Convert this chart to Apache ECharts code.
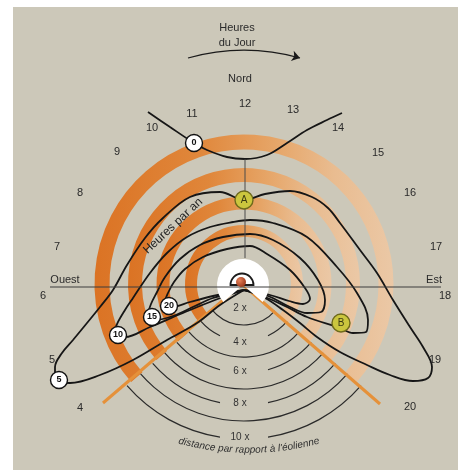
<!DOCTYPE html>
<html><head><meta charset="utf-8">
<script src="https://cdn.jsdelivr.net/npm/echarts/dist/echarts.min.js"></script>
<style>html,body{margin:0;padding:0;background:#fff;}#main{width:458px;height:470px;}</style>
</head><body><div id="main"></div>
<script>
// ---- DATA (chart units, origin = wind turbine, north up) ----
const ringRadius = [142, 109, 81, 53];
const distanceArcR = [41, 57, 73, 89, 105, 121, 137, 155];
const distanceArcSplit = [0, 1, 0, 1, 0, 1, 0, 1];
const distanceLabels = ['2 x', '4 x', '6 x', '8 x', '10 x'];
const distanceLabelR = [24, 58, 87, 119, 153];
const wedgeLeft = [[-2, 0], [-141, -119]];
const wedgeRight = [[-2, 0], [136, -120]];
const westEastLine = [[-194, -3], [197, -3]];
const northLine = [[1, 125], [1, 26]];

const hourLabels = ['4','5','6','7','8','9','10','11','12','13','14','15','16','17','18','19','20'];
const hourX = [-164,-192,-201,-187,-164,-127,-92,-52,1,49,94,134,166,192,201,191,166];
const hourY = [-124,-76,-12,37,91,132,156,170,180,174,156,131,91,37,-12,-76,-123];

const titleTexts = ['Heures', 'du Jour', 'Nord', 'Ouest', 'Est'];
const titleX = [-7, -7, -4, -179, 190];
const titleY = [256, 241, 205, 4, 4];

const contour0 = [[-96,172],[-74,157],[-50,141],[-37,134],[-17,127],[1,125],[23,129],[43,141],[63,154],[83,164],[98,171]];
const contour5 = [[0,-6],[-24,-21],[-47,-39],[-77,-56],[-111,-76],[-144,-91],[-174,-99],[-189,-96],[-189,-83],[-182,-69],[-171,-56],[-157,-39],[-144,-23],[-131,-6],[-117,19],[-99,46],[-81,66],[-54,87],[-24,92],[0,84],[21,90],[46,93],[68,87],[84,76],[96,61],[116,34],[133,11],[149,-16],[166,-43],[179,-63],[188,-83],[184,-94],[169,-97],[146,-91],[123,-81],[96,-68],[73,-53],[56,-39],[39,-26],[21,-14],[0,-6]];
const contour10 = [[0,-6],[-29,-16],[-61,-29],[-94,-43],[-119,-53],[-130,-50],[-127,-40],[-119,-26],[-111,-14],[-94,11],[-77,31],[-57,47],[-34,57],[-11,62],[6,64],[29,61],[63,47],[93,17],[113,-9],[124,-36],[122,-48],[109,-49],[96,-44],[63,-33],[43,-23],[21,-13],[0,-6]];
const contour15 = [[0,-6],[-31,-14],[-49,-22],[-71,-32],[-89,-36],[-96,-31],[-93,-20],[-87,-8],[-79,7],[-64,25],[-44,39],[-21,47],[6,50],[29,44],[56,26],[74,4],[81,-16],[77,-28],[63,-29],[46,-23],[24,-12],[0,-6]];
const contour20 = [[0,-6],[-31,-12],[-54,-18],[-72,-23],[-79,-18],[-76,-9],[-70,2],[-59,15],[-41,27],[-17,35],[6,38],[23,30],[46,14],[61,-4],[66,-15],[59,-20],[45,-17],[26,-11],[0,-6]];

const markerLabels = ['0', '5', '10', '15', '20'];
const markerPos = [[-50,141],[-185,-96],[-126,-51],[-92,-33],[-75,-22]];
const siteLabels = ['A', 'B'];
const sitePos = [[0,84],[97,-39]];

const arrowCoords = [[-56,226],[56,226]];
const curvedText = "distance par rapport à l'éolienne";
const curvedCenter = [5, 104];
const curvedR = 270;
const annualText = 'Heures par an';
const annualPos = [-71, 58];

// ---- RENDER ----
const FONT = '"Liberation Sans", Arial, Helvetica, sans-serif';
const DEG = Math.PI / 180;
const WEDGE_L = 139 * DEG, WEDGE_R = 41 * DEG;
const ringW = [15, 14, 13, 12];
const ringGrad = new echarts.graphic.LinearGradient(0, 0, 1, 0, [
  {offset: 0, color: '#db7324'}, {offset: 0.35, color: '#e0873b'},
  {offset: 0.6, color: '#e6a567'}, {offset: 0.8, color: '#e9bc90'}, {offset: 1, color: '#ebc8a6'}]);

function textSeries(xs, ys, texts, style, rot) {
  return {
    type: 'custom', coordinateSystem: 'cartesian2d', silent: true, z: 20,
    data: xs.map((x, i) => [x, ys[i]]),
    renderItem(params, api) {
      const p = api.coord([api.value(0), api.value(1)]);
      return {type: 'text', x: p[0], y: p[1], rotation: (rot || 0) * DEG,
        style: Object.assign({text: texts[params.dataIndex], align: 'center', verticalAlign: 'middle',
          fill: '#2a2a2a', font: '11px ' + FONT}, style)};
    }
  };
}

const chart = echarts.init(document.getElementById('main'), null, {renderer: 'canvas'});
const option = {
  animation: false,
  backgroundColor: '#ffffff',
  graphic: [{type: 'rect', left: 13, top: 7, z: -10, silent: true,
    shape: {width: 445, height: 463}, style: {fill: '#ccc8b9'}}],
  grid: {left: 0, right: 0, top: 0, bottom: 0},
  xAxis: {type: 'value', min: -244, max: 214, show: false},
  yAxis: {type: 'value', min: -186, max: 284, show: false},
  series: [
    { // orange rings
      type: 'custom', coordinateSystem: 'cartesian2d', silent: true, z: 1,
      data: ringRadius.map(r => [0, 0, r]),
      renderItem(params, api) {
        const c = api.coord([0, 0]);
        const r = api.size([api.value(2), 0])[0];
        return {type: 'arc', shape: {cx: c[0], cy: c[1], r, startAngle: WEDGE_L, endAngle: WEDGE_R + 2 * Math.PI, clockwise: true},
          style: {fill: null, stroke: ringGrad, lineWidth: ringW[params.dataIndex]}};
      }
    },
    { // distance arcs
      type: 'custom', coordinateSystem: 'cartesian2d', silent: true, z: 2,
      data: distanceArcR.map((r, i) => [0, 0, r, distanceArcSplit[i]]),
      renderItem(params, api) {
        const c = api.coord([0, 0]);
        const r = api.size([api.value(2), 0])[0];
        const st = {fill: null, stroke: '#2a2a2a', lineWidth: 1.2};
        if (api.value(3)) {
          const g = Math.asin(Math.min(0.9, 24 / r));
          return {type: 'group', children: [
            {type: 'arc', shape: {cx: c[0], cy: c[1], r, startAngle: WEDGE_R, endAngle: Math.PI / 2 - g, clockwise: true}, style: st},
            {type: 'arc', shape: {cx: c[0], cy: c[1], r, startAngle: Math.PI / 2 + g, endAngle: WEDGE_L, clockwise: true}, style: st}]};
        }
        return {type: 'arc', shape: {cx: c[0], cy: c[1], r, startAngle: WEDGE_R, endAngle: WEDGE_L, clockwise: true}, style: st};
      }
    },
    {type: 'line', data: wedgeLeft, symbol: 'none', silent: true, z: 3, lineStyle: {color: '#e5913a', width: 3}},
    {type: 'line', data: wedgeRight, symbol: 'none', silent: true, z: 3, lineStyle: {color: '#e5913a', width: 3}},
    // contours
    {type: 'line', data: contour0, smooth: 0.35, symbol: 'none', silent: true, z: 4, lineStyle: {color: '#161616', width: 1.8}},
    {type: 'line', data: contour5, smooth: 0.35, symbol: 'none', silent: true, z: 4, lineStyle: {color: '#161616', width: 1.8}},
    {type: 'line', data: contour10, smooth: 0.35, symbol: 'none', silent: true, z: 4, lineStyle: {color: '#161616', width: 1.8}},
    {type: 'line', data: contour15, smooth: 0.35, symbol: 'none', silent: true, z: 4, lineStyle: {color: '#161616', width: 1.8}},
    {type: 'line', data: contour20, smooth: 0.35, symbol: 'none', silent: true, z: 4, lineStyle: {color: '#161616', width: 1.8}},
    { // white disk around turbine
      type: 'custom', coordinateSystem: 'cartesian2d', silent: true, z: 6,
      data: [[-1, -1, 26]],
      renderItem(params, api) {
        const c = api.coord([api.value(0), api.value(1)]);
        const r = api.size([api.value(2), 0])[0];
        return {type: 'sector', shape: {cx: c[0], cy: c[1], r0: 0, r, startAngle: WEDGE_L, endAngle: WEDGE_R + 2 * Math.PI, clockwise: true},
          style: {fill: '#ffffff'}};
      }
    },
    {type: 'line', data: westEastLine, symbol: 'none', silent: true, z: 7, lineStyle: {color: '#3c3c3c', width: 1}},
    {type: 'line', data: northLine, symbol: 'none', silent: true, z: 7, lineStyle: {color: '#4a4a4a', width: 1}},
    { // turbine dome + ball
      type: 'custom', coordinateSystem: 'cartesian2d', silent: true, z: 8,
      data: [[-2, -1, 11.5]],
      renderItem(params, api) {
        const c = api.coord([api.value(0), api.value(1)]);
        const r = api.size([api.value(2), 0])[0];
        const b = api.coord([-3, 2]);
        return {type: 'group', children: [
          {type: 'sector', shape: {cx: c[0], cy: c[1], r0: 0, r, startAngle: Math.PI, endAngle: 2 * Math.PI, clockwise: true},
            style: {fill: '#ffffff', stroke: '#1c1c1c', lineWidth: 1.8}},
          {type: 'circle', shape: {cx: b[0], cy: b[1], r: 5},
            style: {fill: new echarts.graphic.RadialGradient(0.35, 0.35, 0.8, [{offset: 0, color: '#e8845a'}, {offset: 1, color: '#8e2c12'}])}}]};
      }
    },
    { // arrow "Heures du Jour"
      type: 'lines', coordinateSystem: 'cartesian2d', silent: true, z: 9,
      symbol: ['none', 'arrow'], symbolSize: 8,
      lineStyle: {color: '#1a1a1a', width: 1.2, curveness: 0.14, opacity: 1},
      data: [{coords: arrowCoords}]
    },
    { // numbered contour markers
      type: 'scatter', data: markerPos, symbolSize: 17, silent: true, z: 12,
      itemStyle: {color: '#ffffff', borderColor: '#111', borderWidth: 1.4, opacity: 1},
      label: {show: true, position: 'inside', formatter: p => markerLabels[p.dataIndex], color: '#111', fontSize: 9, fontWeight: 'bold', fontFamily: FONT}
    },
    { // sites A, B
      type: 'scatter', data: sitePos, symbolSize: 18, silent: true, z: 12,
      itemStyle: {color: '#cbc63e', borderColor: '#6e6a1c', borderWidth: 1.4, opacity: 1},
      label: {show: true, position: 'inside', formatter: p => siteLabels[p.dataIndex], color: '#3b3a12', fontSize: 10, fontFamily: FONT}
    },
    textSeries(hourX, hourY, hourLabels, {font: '11px ' + FONT}),
    textSeries(titleX, titleY, titleTexts, {font: '11px ' + FONT}),
    textSeries(distanceLabels.map(() => -4), distanceLabelR.map(r => -r), distanceLabels, {font: '10px ' + FONT, fill: '#333'}),
    textSeries([annualPos[0]], [annualPos[1]], [annualText], {font: '12px ' + FONT, fill: '#222'}, 43),
    { // curved caption
      type: 'custom', coordinateSystem: 'cartesian2d', silent: true, z: 20,
      data: [[curvedCenter[0], curvedCenter[1], curvedR]],
      renderItem(params, api) {
        const c = api.coord([api.value(0), api.value(1)]);
        const r = api.size([api.value(2), 0])[0];
        const font = 'italic 10px ' + FONT;
        const ctx = document.createElement('canvas').getContext('2d');
        ctx.font = font;
        const total = ctx.measureText(curvedText).width;
        let acc = -total / 2;
        const children = [];
        for (const ch of curvedText) {
          const w = ctx.measureText(ch).width;
          const s = acc + w / 2; acc += w;
          const th = Math.PI / 2 - s / r;
          children.push({type: 'text', x: c[0] + r * Math.cos(th), y: c[1] + r * Math.sin(th), rotation: Math.PI / 2 - th,
            style: {text: ch, font, fill: '#2e2e2e', align: 'center', verticalAlign: 'middle'}});
        }
        return {type: 'group', children};
      }
    }
  ]
};
chart.setOption(option);
</script></body></html>
